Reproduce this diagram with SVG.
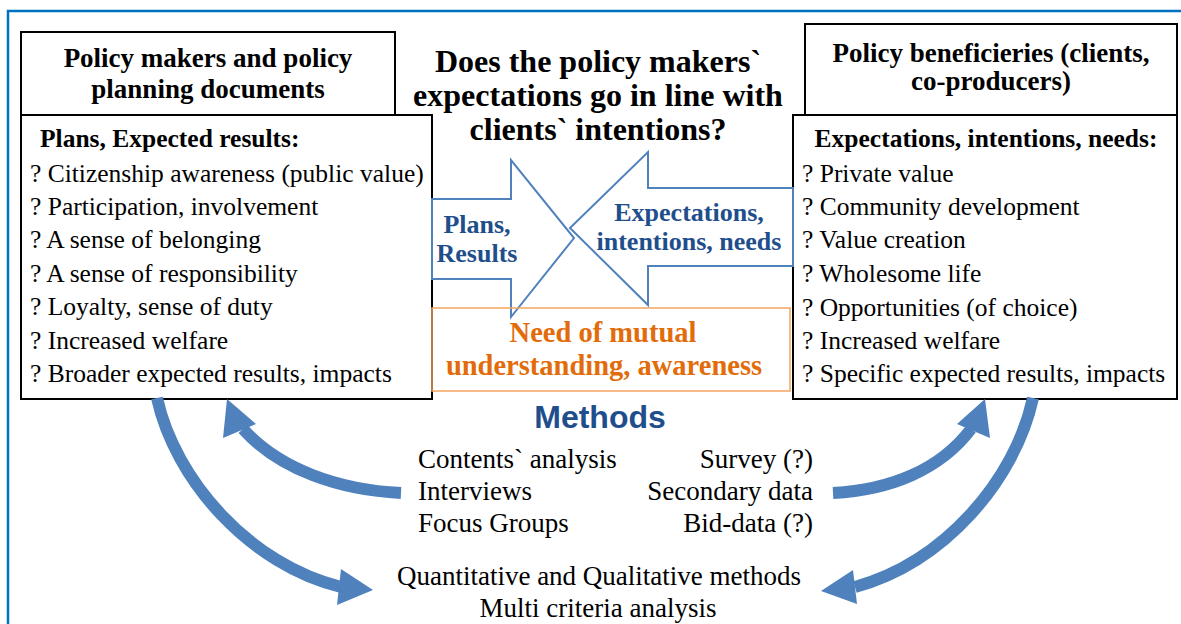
<svg xmlns="http://www.w3.org/2000/svg" width="1181" height="624" viewBox="0 0 1181 624">
<style>
.box{fill:#fff;stroke:#000;stroke-width:2}
.hdr{font-weight:bold;font-size:27px;fill:#000;text-anchor:middle}
.sub{font-weight:bold;font-size:25.5px;fill:#000}
.item{font-size:25.5px;fill:#000}
.title{font-weight:bold;font-size:32px;fill:#000;text-anchor:middle}
.blue{font-weight:bold;font-size:26px;fill:#1F4E8C;text-anchor:middle}
.orange{font-weight:bold;font-size:28.5px;fill:#E36C0A;text-anchor:middle}
.meth{font-size:27px;fill:#000}
.mh{font-weight:bold;font-size:32px;fill:#1F4E8C;text-anchor:middle}
.outline{fill:none;stroke:#4F81BD;stroke-width:2;stroke-linejoin:miter}
.shaft{fill:none;stroke:#4F81BD;stroke-width:12}
.head{fill:#4F81BD}
</style>
<rect width="1181" height="624" fill="#fff"/>
<path d="M8,624 V11 H1181" fill="none" stroke="#0070C0" stroke-width="2.5"/>

<g font-family="Liberation Serif, DejaVu Serif, serif">
<g id="left-header">
<rect class="box" x="21" y="32" width="374" height="83"/>
<text class="hdr" x="208" y="67">Policy makers and policy</text>
<text class="hdr" x="208" y="98">planning documents</text>
</g>

<g id="left-box">
<rect class="box" x="21" y="115" width="411" height="284"/>
<text class="sub" x="40" y="147">Plans, Expected results:</text>
<text class="item" x="30" y="182">? Citizenship awareness (public value)</text>
<text class="item" x="30" y="215">? Participation, involvement</text>
<text class="item" x="30" y="248">? A sense of belonging</text>
<text class="item" x="30" y="282">? A sense of responsibility</text>
<text class="item" x="30" y="315">? Loyalty, sense of duty</text>
<text class="item" x="30" y="349">? Increased welfare</text>
<text class="item" x="30" y="382">? Broader expected results, impacts</text>
</g>

<g id="right-header">
<rect class="box" x="805" y="24" width="372" height="91"/>
<text class="hdr" x="991" y="62">Policy beneficieries (clients,</text>
<text class="hdr" x="991" y="90">co-producers)</text>
</g>

<g id="right-box">
<rect class="box" x="793" y="115" width="384" height="284"/>
<text class="sub" x="986" y="147" text-anchor="middle">Expectations, intentions, needs:</text>
<text class="item" x="802" y="182">? Private value</text>
<text class="item" x="802" y="215">? Community development</text>
<text class="item" x="802" y="248">? Value creation</text>
<text class="item" x="802" y="282">? Wholesome life</text>
<text class="item" x="802" y="316">? Opportunities (of choice)</text>
<text class="item" x="802" y="349">? Increased welfare</text>
<text class="item" x="802" y="382">? Specific expected results, impacts</text>
</g>

<g id="question">
<text class="title" x="598" y="72">Does the policy makers`</text>
<text class="title" x="598" y="106">expectations go in line with</text>
<text class="title" x="598" y="140">clients` intentions?</text>
</g>

<g id="plans-arrow">
<polygon class="outline" points="432,199 511,199 511,160 574,238 511,317 511,279 432,279"/>
<text class="blue" x="477" y="233">Plans,</text>
<text class="blue" x="477" y="262">Results</text>
</g>

<g id="expectations-arrow">
<polygon class="outline" points="793,188 648,188 648,152 570,228 648,305 648,266 793,266"/>
<text class="blue" x="689" y="221">Expectations,</text>
<text class="blue" x="689" y="250">intentions, needs</text>
</g>

<g id="mutual">
<rect x="432" y="308" width="358" height="83" fill="none" stroke="#F4A460" stroke-width="1.5"/>
<text class="orange" x="603" y="342">Need of mutual</text>
<text class="orange" x="604" y="375">understanding, awareness</text>
</g>

<g id="methods">
<text class="mh" x="600" y="428" font-family="Liberation Sans, Arial, sans-serif">Methods</text>
<text class="meth" x="418" y="468">Contents` analysis</text>
<text class="meth" x="418" y="500">Interviews</text>
<text class="meth" x="418" y="532">Focus Groups</text>
<text class="meth" x="813" y="468" text-anchor="end">Survey (?)</text>
<text class="meth" x="813" y="500" text-anchor="end">Secondary data</text>
<text class="meth" x="813" y="532" text-anchor="end">Bid-data (?)</text>
</g>

<g id="combined">
<text class="meth" x="599" y="585" text-anchor="middle">Quantitative and Qualitative methods</text>
<text class="meth" x="598" y="617" text-anchor="middle">Multi criteria analysis</text>
</g>
</g>

<g id="connectors">
<path class="shaft" d="M157,398 C175,480 250,565 341,587"/>
<polygon class="head" points="373,590 341,569 337,605"/>
<path class="shaft" d="M401,493 C340,490 280,470 243,429"/>
<polygon class="head" points="227,399 256,424 223,438"/>
<path class="shaft" d="M1033,398 C1015,480 945,562 855,587"/>
<polygon class="head" points="821,591 853,570 857,604"/>
<path class="shaft" d="M833,493 C890,490 940,470 971,429"/>
<polygon class="head" points="985,399 957,424 990,438"/>
</g>
</svg>
